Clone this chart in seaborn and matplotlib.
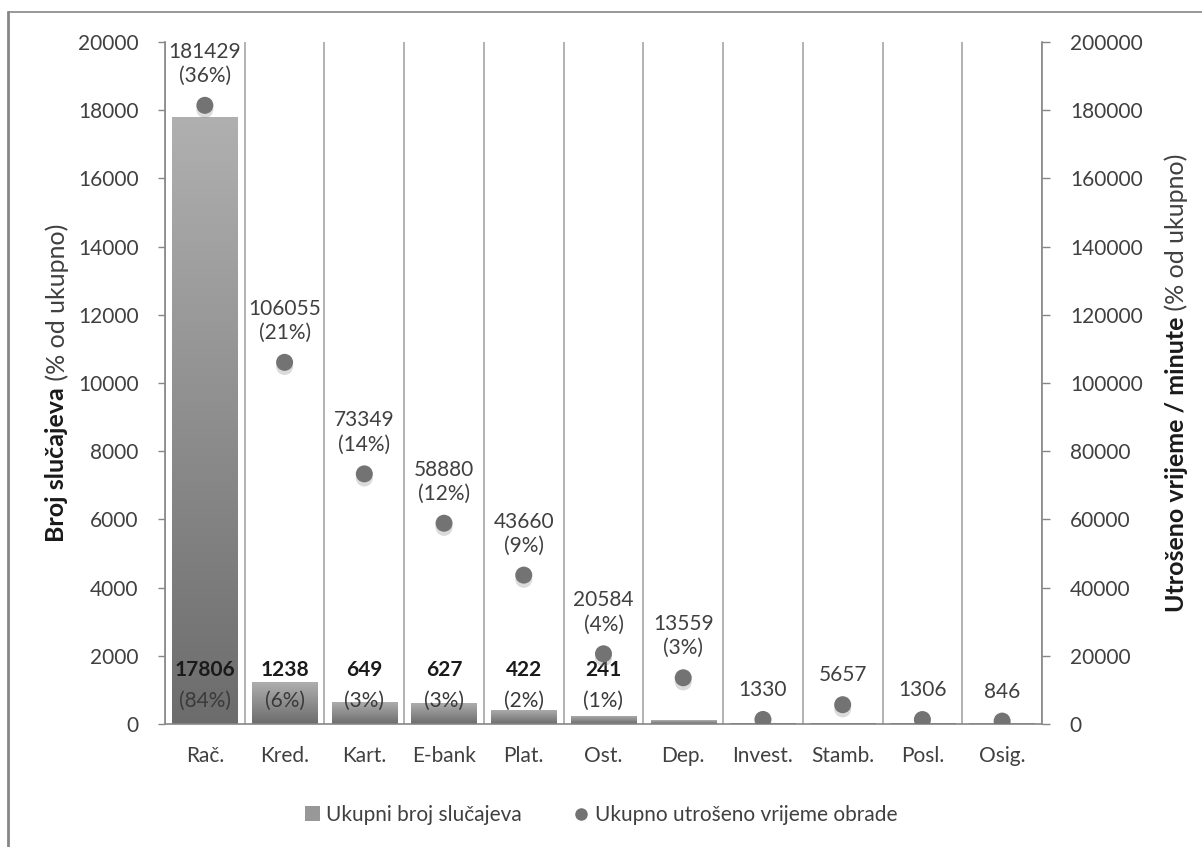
"""Broj slučajeva i utrošeno vrijeme obrade po kategoriji (stupci + točke, dvije osi)."""
import matplotlib

matplotlib.use("Agg")
import matplotlib.pyplot as plt
import matplotlib.patheffects as pe
from matplotlib.colors import LinearSegmentedColormap
from matplotlib.lines import Line2D
from matplotlib.patches import Patch
import numpy as np
import pandas as pd
import seaborn as sns

categories = ["Rač.", "Kred.", "Kart.", "E-bank", "Plat.", "Ost.", "Dep.",
              "Invest.", "Stamb.", "Posl.", "Osig."]
case_counts = [17806, 1238, 649, 627, 422, 241, 110, 35, 40, 30, 25]
case_labels = ["17806", "1238", "649", "627", "422", "241", "", "", "", "", ""]
case_pct = ["(84%)", "(6%)", "(3%)", "(3%)", "(2%)", "(1%)", "", "", "", "", ""]
time_minutes = [181429, 106055, 73349, 58880, 43660, 20584, 13559, 1330, 5657, 1306, 846]
time_labels = ["181429\n(36%)", "106055\n(21%)", "73349\n(14%)", "58880\n(12%)",
               "43660\n(9%)", "20584\n(4%)", "13559\n(3%)", "1330", "5657", "1306", "846"]

sns.set_theme(style="white")
plt.rcParams["font.family"] = ["Lato", "DejaVu Sans"]
plt.rcParams["text.color"] = "#404040"
plt.rcParams["xtick.color"] = "#868686"
plt.rcParams["ytick.color"] = "#868686"
plt.rcParams["xtick.labelcolor"] = "#404040"
plt.rcParams["ytick.labelcolor"] = "#404040"

W, H = 1202, 847
fig = plt.figure(figsize=(W / 100, H / 100), dpi=100)
ax = fig.add_axes([165 / W, 1 - 724 / H, (1042 - 165) / W, (724 - 42) / H])

df = pd.DataFrame({"kat": categories, "broj": case_counts})
sns.barplot(data=df, x="kat", y="broj", ax=ax, color="#999999", width=0.82,
            saturation=1, zorder=2)

# gradijent u stupcima (svjetlije gore, tamnije dolje)
cmap = LinearSegmentedColormap.from_list("g", ["#6c6c6c", "#8e8e8e", "#b0b0b0"])
grad = np.linspace(0, 1, 256).reshape(-1, 1)
for p in list(ax.patches):
    x0, w, h = p.get_x(), p.get_width(), p.get_height()
    im = ax.imshow(grad, cmap=cmap, origin="lower", aspect="auto",
                   extent=[x0, x0 + w, 0, h], zorder=2)
    im.set_clip_path(p)
    p.set_facecolor("none")
    p.set_edgecolor("none")

n = len(categories)
ax.set_xlim(-0.5, n - 0.5)
ax.set_ylim(0, 20000)
ax.set_yticks(np.arange(0, 20001, 2000))
ax.set_xticks(np.arange(n))
ax.set_xticklabels(categories)
ax.set_xticks(np.arange(-0.5, n, 1.0), minor=True)
ax.tick_params(axis="x", which="major", length=0, pad=16, labelsize=15)
ax.tick_params(axis="x", which="minor", length=6, width=1, direction="out")
ax.tick_params(axis="y", length=5, width=1, direction="out", pad=14, labelsize=15, left=True)
ax.grid(False)
ax.grid(which="minor", axis="x", color="#a6a6a6", linewidth=1.2, zorder=1)
ax.set_xlabel("")
ax.set_ylabel("")
for s in ["left", "bottom"]:
    ax.spines[s].set_color("#868686")
    ax.spines[s].set_linewidth(1.2)
ax.spines["top"].set_visible(False)
ax.spines["right"].set_visible(False)

for i in range(n):
    if case_labels[i]:
        ax.annotate(case_labels[i], (i, 0), xytext=(0, 39), textcoords="offset points",
                    ha="center", va="center", fontsize=15, fontweight="bold", color="#1a1a1a")
        ax.annotate(case_pct[i], (i, 0), xytext=(0, 17), textcoords="offset points",
                    ha="center", va="center", fontsize=15, color="#3a3a3a")

ax2 = ax.twinx()
sns.scatterplot(x=np.arange(n), y=time_minutes, ax=ax2, color="#737373", s=150,
                edgecolor="none", zorder=3)
ax2.collections[0].set_path_effects(
    [pe.SimplePatchShadow(offset=(0, -3), shadow_rgbFace="#8a8a8a", alpha=0.3), pe.Normal()])
ax2.set_ylim(0, 200000)
ax2.set_yticks(np.arange(0, 200001, 20000))
ax2.tick_params(axis="y", length=6, width=1, direction="out", pad=14, labelsize=15, right=True)
ax2.set_ylabel("")
for s in ["left", "top", "bottom"]:
    ax2.spines[s].set_visible(False)
ax2.spines["right"].set_color("#868686")
ax2.spines["right"].set_linewidth(1.2)
ax2.grid(False)

for i in range(n):
    ax2.annotate(time_labels[i], (i, time_minutes[i]), xytext=(0, 14),
                 textcoords="offset points", ha="center", va="bottom", fontsize=15,
                 linespacing=1.25, color="#404040")


def axis_title(x_px, bold_part, plain_part):
    """Okomiti naslov osi: podebljani dio + obični dio, centriran uz područje crtanja."""
    t1 = fig.text(x_px / W, 0.5, bold_part, rotation=90, ha="center", va="bottom",
                  fontsize=18, fontweight="bold", color="#1a1a1a")
    t2 = fig.text(x_px / W, 0.5, plain_part, rotation=90, ha="center", va="bottom",
                  fontsize=18, color="#404040")
    r = fig.canvas.get_renderer()
    h1 = t1.get_window_extent(r).height
    h2 = t2.get_window_extent(r).height
    pos = ax.get_position()
    yc = (pos.y0 + pos.y1) / 2 * H
    y0 = yc - (h1 + h2) / 2
    t1.set_y(y0 / H)
    t2.set_y((y0 + h1) / H)


axis_title(57, "Broj slučajeva", " (% od ukupno)")
axis_title(1176, "Utrošeno vrijeme / minute", " (% od ukupno)")

handles = [Patch(facecolor="#989898", edgecolor="none"),
           Line2D([], [], marker="o", linestyle="none", markersize=9,
                  markerfacecolor="#737373", markeredgecolor="none")]
fig.legend(handles, ["Ukupni broj slučajeva", "Ukupno utrošeno vrijeme obrade"],
           loc="center", bbox_to_anchor=(0.5, 1 - 815 / H), ncol=2, frameon=False,
           fontsize=15, handlelength=0.7, handletextpad=0.3, columnspacing=2.5,
           labelcolor="#404040")

# okvir grafikona
fig.add_artist(Line2D([8 / W, 8 / W], [0, 1 - 12 / H], transform=fig.transFigure,
                      color="#868686", linewidth=2))
fig.add_artist(Line2D([8 / W, 1], [1 - 12 / H, 1 - 12 / H], transform=fig.transFigure,
                      color="#868686", linewidth=1.2))

fig.savefig("out.png", dpi=100)
